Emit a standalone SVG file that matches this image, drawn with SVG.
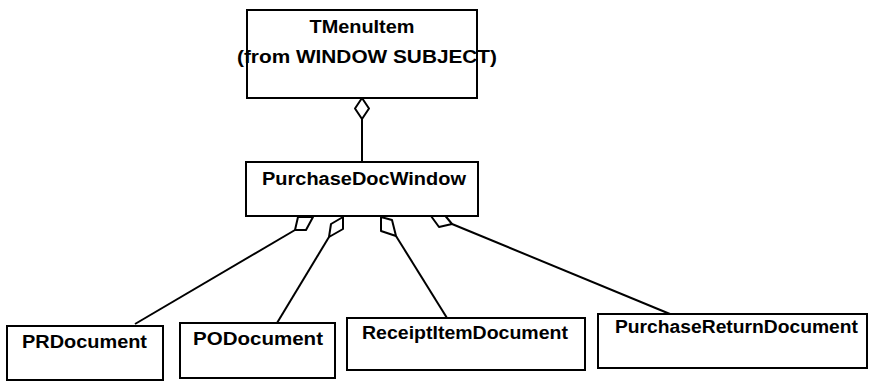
<svg xmlns="http://www.w3.org/2000/svg" width="871" height="383" viewBox="0 0 871 383">
<style>
.box{fill:#fff;stroke:#000;stroke-width:2}
.lbl{font-family:"Liberation Sans",Arial,sans-serif;font-weight:bold;font-size:18px;fill:#000}
.ln{stroke:#000;stroke-width:2;fill:none}
.dia{fill:#fff;stroke:#000;stroke-width:2;stroke-linejoin:round}
</style>
<rect width="871" height="383" fill="#fff"/>
<g id="connectors">
<line class="ln" x1="362" y1="119" x2="362" y2="162"/>
<polygon class="dia" points="362,98 369,108.5 362,119 355,108.5"/>
<line class="ln" x1="295" y1="230" x2="135" y2="324"/>
<polygon class="dia" points="298,217 313,217 306,230 295,230"/>
<line class="ln" x1="329" y1="237" x2="277" y2="323"/>
<polygon class="dia" points="343,217 343,229 329,237 331,224"/>
<line class="ln" x1="396" y1="236" x2="447" y2="318"/>
<polygon class="dia" points="381,217 392,220 396,236 381,231"/>
<line class="ln" x1="452" y1="224" x2="670" y2="314"/>
<polygon class="dia" points="431,216 443,213 452,224 439,227"/>
</g>
<g id="TMenuItem">
<rect class="box" x="247" y="10" width="230" height="88"/>
<text class="lbl" x="362" y="33" text-anchor="middle" textLength="105" lengthAdjust="spacingAndGlyphs">TMenuItem</text>
<text class="lbl" x="367" y="63" text-anchor="middle" textLength="260" lengthAdjust="spacingAndGlyphs">(from WINDOW SUBJECT)</text>
</g>
<g id="PurchaseDocWindow">
<rect class="box" x="246" y="162" width="232" height="54"/>
<text class="lbl" x="262" y="185" textLength="204" lengthAdjust="spacingAndGlyphs">PurchaseDocWindow</text>
</g>
<g id="PRDocument">
<rect class="box" x="7" y="326" width="156" height="54"/>
<text class="lbl" x="22" y="348" textLength="125" lengthAdjust="spacingAndGlyphs">PRDocument</text>
</g>
<g id="PODocument">
<rect class="box" x="180" y="323" width="155" height="55"/>
<text class="lbl" x="193" y="345" textLength="130" lengthAdjust="spacingAndGlyphs">PODocument</text>
</g>
<g id="ReceiptItemDocument">
<rect class="box" x="347" y="318" width="238" height="52"/>
<text class="lbl" x="362" y="339" textLength="206" lengthAdjust="spacingAndGlyphs">ReceiptItemDocument</text>
</g>
<g id="PurchaseReturnDocument">
<rect class="box" x="598" y="314" width="269" height="54"/>
<text class="lbl" x="615" y="333" textLength="243" lengthAdjust="spacingAndGlyphs">PurchaseReturnDocument</text>
</g>
</svg>
